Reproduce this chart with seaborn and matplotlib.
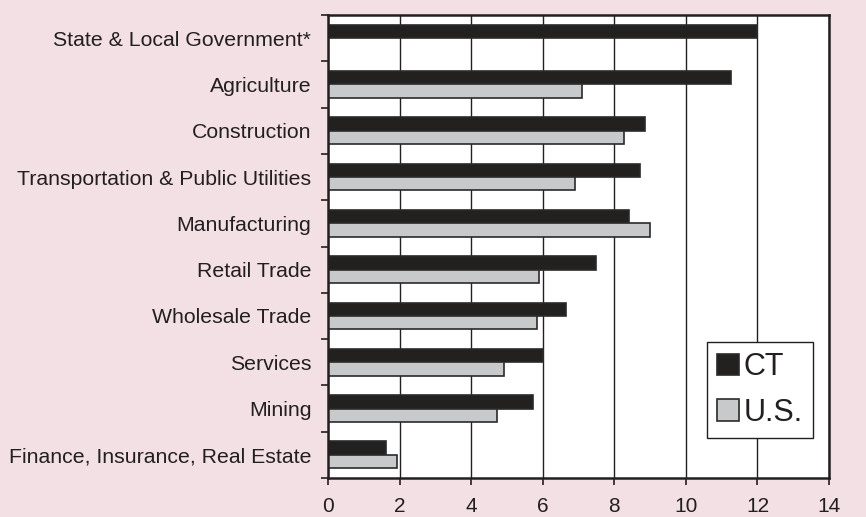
import numpy as np
import pandas as pd
import matplotlib
matplotlib.use("Agg")
import matplotlib.pyplot as plt
import seaborn as sns

# Data
industries = [
    "State & Local Government*",
    "Agriculture",
    "Construction",
    "Transportation & Public Utilities",
    "Manufacturing",
    "Retail Trade",
    "Wholesale Trade",
    "Services",
    "Mining",
    "Finance, Insurance, Real Estate",
]
ct_values = [12.0, 11.25, 8.85, 8.73, 8.42, 7.50, 6.65, 6.01, 5.74, 1.62]
us_values = [np.nan, 7.11, 8.28, 6.90, 9.00, 5.89, 5.83, 4.93, 4.71, 1.94]
series = ["CT", "U.S."]
x_ticks = [0, 2, 4, 6, 8, 10, 12, 14]

BG = "#F3E0E5"
DARK = "#231F20"
LIGHT = "#C8C9CB"

df = pd.DataFrame({
    "industry": industries * 2,
    "value": ct_values + us_values,
    "region": [series[0]] * len(industries) + [series[1]] * len(industries),
})

sns.set_style("white")
plt.rcParams["font.family"] = ["Liberation Sans", "DejaVu Sans"]

fig = plt.figure(figsize=(8.66, 5.17), dpi=100, facecolor=BG)
ax = fig.add_axes([0.3788, 0.0754, 0.5785, 0.8956])
ax.set_facecolor("white")

sns.barplot(data=df, y="industry", x="value", hue="region", order=industries,
            hue_order=series, palette=[DARK, LIGHT], width=0.58, orient="h",
            edgecolor="#2a2a2a", linewidth=1.2, ax=ax, legend=True)

ax.set_xlim(0, 14)
ax.set_ylim(len(industries) - 0.5, -0.5)
ax.set_xticks(x_ticks)
ax.set_xticklabels([str(t) for t in x_ticks], fontsize=15)
ax.set_yticklabels(industries, fontsize=15.3)
ax.set_xlabel("")
ax.set_ylabel("")

# vertical gridlines
ax.grid(axis="x", color="#231F20", linewidth=1.0)
ax.set_axisbelow(True)

# ticks: labels at category centres, marks at category boundaries
ax.tick_params(axis="y", which="major", length=0, pad=12, colors="#231F20")
ax.set_yticks(np.arange(-0.5, len(industries)), minor=True)
ax.tick_params(axis="y", which="minor", length=5, width=1.2, color="#231F20",
               direction="out", left=True)
ax.tick_params(axis="x", which="major", length=5, width=1.2, color="#231F20",
               direction="out", pad=9, labelcolor="#231F20", bottom=True)

for s in ax.spines.values():
    s.set_visible(True)
    s.set_color("#231F20")
    s.set_linewidth(1.8)

leg = ax.legend(loc="lower left", bbox_to_anchor=(0.756, 0.086), borderaxespad=0,
                fontsize=22, handlelength=0.7, handleheight=0.7, handletextpad=0.15,
                labelspacing=0.5, borderpad=0.35, frameon=True, fancybox=False)
leg.get_frame().set_edgecolor("#231F20")
leg.get_frame().set_linewidth(1.0)
leg.get_frame().set_facecolor("white")
leg.get_frame().set_alpha(1)
for t in leg.get_texts():
    t.set_color("#231F20")

fig.savefig("out.png", dpi=100, facecolor=BG)
